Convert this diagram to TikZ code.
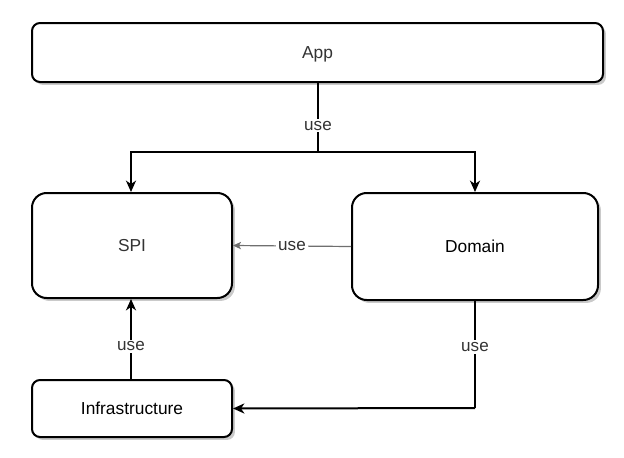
\documentclass[tikz,border=0pt]{standalone}
\usepackage{fontspec}
\setmainfont{Liberation Sans}
\usetikzlibrary{arrows.meta,shadows}
\definecolor{txtgray}{HTML}{333333}
\definecolor{lngray}{HTML}{6F6F6F}
\begin{document}
\begin{tikzpicture}[x=0.75pt,y=-0.75pt,
  box/.style={draw=black,line width=1.5pt,fill=white,
    drop shadow={shadow xshift=2.2pt,shadow yshift=-2.2pt,fill=black!35,opacity=0.6},
    font=\fontsize{13pt}{15pt}\selectfont,inner sep=0pt,text height=0.9em,text depth=0pt},
  conn/.style={line width=1.5pt,-{Stealth[length=8.5pt,width=7.5pt,inset=2.5pt]}},
  lbl/.style={fill=white,text=txtgray,font=\fontsize{12.8pt}{14pt}\selectfont,inner sep=1.5pt}]
\useasboundingbox (0,0) rectangle (624,457);
\node[box,rounded corners=6pt,minimum width=571*0.75pt,minimum height=59*0.75pt,text=txtgray] (app) at (317.5,52.5) {App};
\node[box,rounded corners=11pt,minimum width=200*0.75pt,minimum height=105*0.75pt,text=txtgray] (spi) at (132,245.5) {SPI};
\node[box,rounded corners=11pt,minimum width=246*0.75pt,minimum height=107*0.75pt] (dom) at (475,246.5) {Domain};
\node[box,rounded corners=6pt,minimum width=200*0.75pt,minimum height=57*0.75pt] (inf) at (132,408.5) {Infrastructure};
\coordinate (j) at (318,152);
\draw[line width=1.5pt] (app.south -| j) -- node[lbl,pos=0.62]{use} (j);
\draw[conn] (j) -| (spi.north -| 131,0);
\draw[conn] (j) -| (dom.north);
\draw[draw=lngray,line width=0.9pt,-{Stealth[length=6pt,width=5.5pt,inset=1.5pt]}] (dom.west) -- node[lbl,text=txtgray]{use} (spi.east);
\draw[conn] (inf.north -| 131,0) -- node[lbl,pos=0.41]{use} (spi.south -| 131,0);
\coordinate (k) at (475,408);
\draw[line width=1.5pt] (dom.south) -- node[lbl,pos=0.43]{use} (k);
\draw[conn] (k) -- (inf.east);
\end{tikzpicture}
\end{document}
